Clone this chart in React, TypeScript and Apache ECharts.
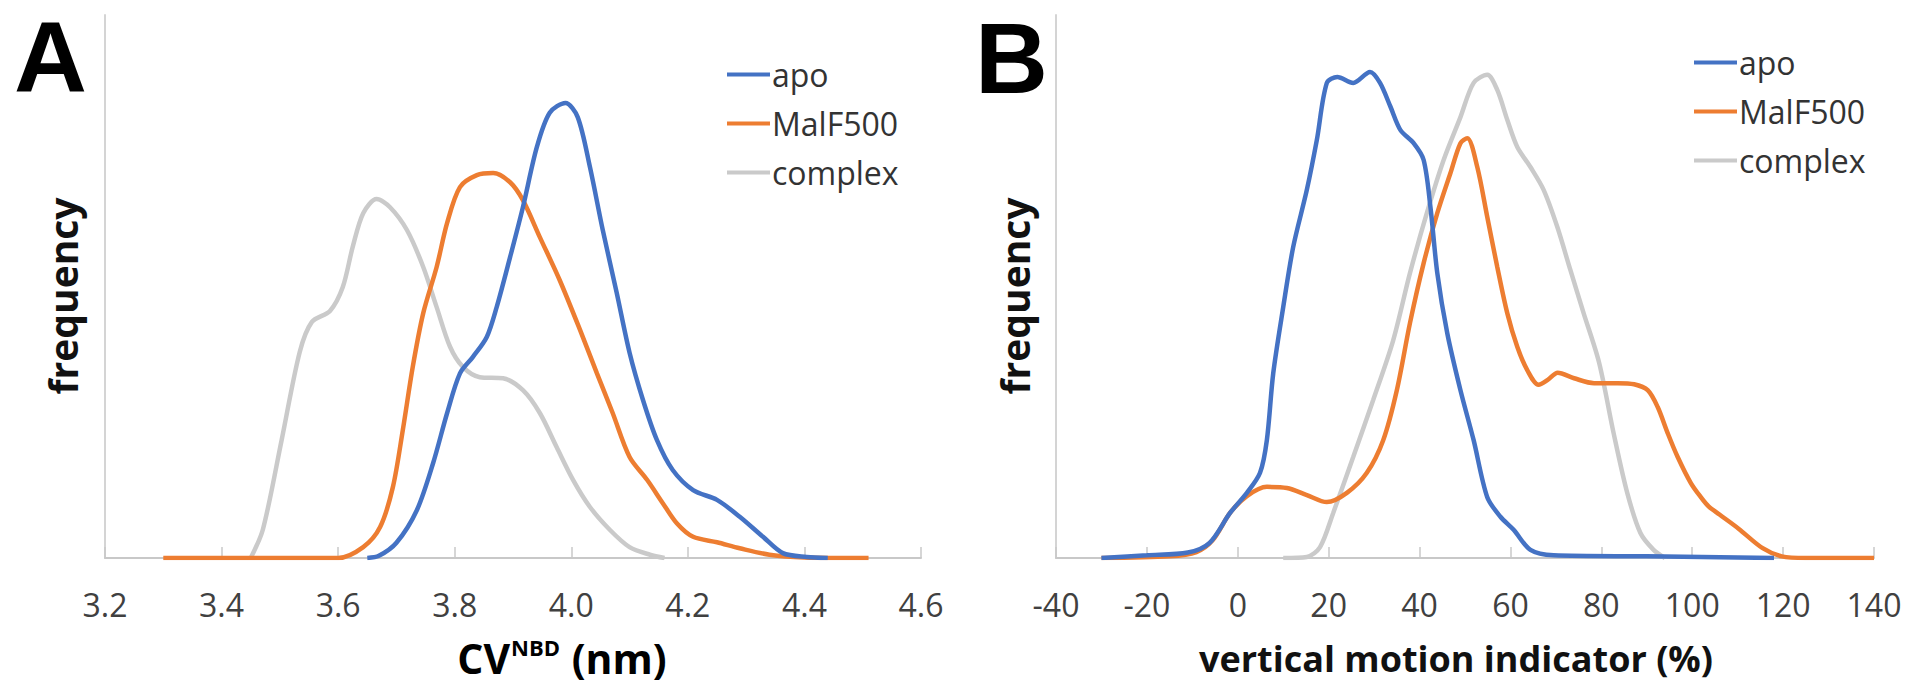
import React, { useEffect, useRef } from "react";
import * as echarts from "echarts";

const seriesNames = ["apo", "MalF500", "complex"];
const seriesColors = ["#4472C4", "#ED7D31", "#CACACA"];

// Panel A: CV^NBD (nm) vs frequency
const aApo: number[][] = [
  [3.65, 0], [3.67, 0.004], [3.70, 0.028], [3.735, 0.088], [3.763, 0.175], [3.787, 0.267],
  [3.809, 0.34], [3.831, 0.37], [3.855, 0.407], [3.872, 0.462], [3.895, 0.554], [3.917, 0.646],
  [3.941, 0.757], [3.963, 0.82], [3.99, 0.838], [4.011, 0.812], [4.032, 0.72], [4.054, 0.604],
  [4.078, 0.488], [4.10, 0.378], [4.123, 0.291], [4.147, 0.217], [4.174, 0.162], [4.209, 0.125],
  [4.25, 0.107], [4.289, 0.076], [4.329, 0.039], [4.363, 0.009], [4.404, 0.002], [4.44, 0],
];
const aMalF: number[][] = [
  [3.30, 0], [3.45, 0], [3.60, 0], [3.643, 0.02], [3.672, 0.057], [3.694, 0.131], [3.711, 0.236],
  [3.728, 0.352], [3.746, 0.451], [3.769, 0.536], [3.787, 0.617], [3.809, 0.683], [3.838, 0.705],
  [3.866, 0.709], [3.895, 0.692], [3.917, 0.659], [3.946, 0.591], [3.98, 0.512], [4.015, 0.42],
  [4.044, 0.34], [4.071, 0.267], [4.10, 0.186], [4.13, 0.144], [4.157, 0.101], [4.181, 0.064],
  [4.209, 0.039], [4.25, 0.029], [4.289, 0.018], [4.34, 0.006], [4.40, 0.001], [4.51, 0],
];
const aComplex: number[][] = [
  [3.45, 0], [3.471, 0.053], [3.503, 0.217], [3.534, 0.379], [3.555, 0.435], [3.586, 0.455],
  [3.608, 0.499], [3.625, 0.573], [3.643, 0.635], [3.666, 0.661], [3.689, 0.646], [3.718, 0.604],
  [3.746, 0.536], [3.769, 0.462], [3.792, 0.389], [3.814, 0.352], [3.843, 0.333], [3.883, 0.331],
  [3.917, 0.309], [3.946, 0.267], [3.975, 0.204], [4.003, 0.144], [4.032, 0.094], [4.066, 0.052],
  [4.10, 0.02], [4.135, 0.006], [4.16, 0],
];

// Panel B: vertical motion indicator (%) vs frequency
const bApo: number[][] = [
  [-30, 0], [-20, 0.005], [-11, 0.01], [-6.2, 0.028], [-1.7, 0.083], [2.0, 0.12], [4.9, 0.157],
  [6.4, 0.217], [7.8, 0.34], [10.0, 0.462], [12.2, 0.573], [15.2, 0.678], [17.4, 0.77],
  [19.6, 0.875], [21.9, 0.886], [25.4, 0.875], [29.1, 0.895], [31.3, 0.875], [33.6, 0.831],
  [35.8, 0.788], [38.7, 0.764], [40.9, 0.733], [42.4, 0.646], [43.9, 0.525], [46.1, 0.414],
  [49.0, 0.309], [51.9, 0.217], [54.9, 0.112], [57.8, 0.076], [60.7, 0.052], [64.4, 0.015],
  [69.5, 0.005], [90, 0.003], [118, 0],
];
const bMalF: number[][] = [
  [-30, 0], [-15, 0.003], [-9.1, 0.011], [-5.5, 0.033], [-1.7, 0.083], [2.0, 0.114], [6.4, 0.131],
  [10.8, 0.129], [15.2, 0.116], [19.6, 0.103], [24.0, 0.12], [28.4, 0.157], [32.0, 0.217],
  [35.0, 0.309], [37.9, 0.433], [40.9, 0.543], [43.9, 0.635], [46.8, 0.709], [49.0, 0.764],
  [50.5, 0.773], [52.7, 0.72], [54.9, 0.628], [57.1, 0.536], [59.3, 0.451], [61.5, 0.389],
  [63.7, 0.346], [66.2, 0.319], [68.2, 0.328], [70.4, 0.341], [74.0, 0.331], [78.4, 0.322],
  [83.6, 0.322], [87.2, 0.32], [90.2, 0.309], [92.4, 0.278], [94.6, 0.23], [96.8, 0.186],
  [99.7, 0.138], [101.9, 0.112], [103.6, 0.095], [106, 0.08], [110.2, 0.054], [115.5, 0.018],
  [119.7, 0.003], [125, 0], [140, 0],
];
const bComplex: number[][] = [
  [10, 0], [15.2, 0.002], [18.1, 0.02], [21.0, 0.083], [25.4, 0.186], [29.8, 0.291], [34.2, 0.401],
  [37.9, 0.525], [41.6, 0.635], [45.3, 0.733], [49.0, 0.812], [51.9, 0.875], [54.9, 0.89],
  [57.1, 0.862], [59.3, 0.807], [61.5, 0.757], [64.4, 0.72], [67.3, 0.678], [70.3, 0.61],
  [73.2, 0.53], [76.1, 0.451], [79.5, 0.36], [82.7, 0.23], [85.7, 0.12], [88.6, 0.046],
  [91.5, 0.015], [94, 0],
];

const panelLetters = ["A", "B"];
const xTitleB = "vertical motion indicator (%)";
const yTitle = "frequency";

const FONT = "'Open Sans', 'Noto Sans', sans-serif";
const LETTER_FONT = "'Liberation Sans', Arial, sans-serif";

export default function App() {
  const ref = useRef<HTMLDivElement>(null);
  useEffect(() => {
    document.body.style.margin = "0";
    if (!ref.current) return;
    const chart = echarts.init(ref.current, undefined, { renderer: "svg" });

    const axisLineStyle = { color: "#C8C8C8", width: 2 };
    const mkX = (gridIndex: number, min: number, max: number, interval: number, fmt: (v: number) => string) => ({
      type: "value",
      gridIndex,
      min,
      max,
      interval,
      axisLine: { show: true, onZero: false, lineStyle: axisLineStyle },
      axisTick: { show: true, inside: true, length: 11, lineStyle: { color: "#C8C8C8", width: 1.5 } },
      splitLine: { show: false },
      axisLabel: { margin: 30, fontSize: 32, color: "#404040", fontFamily: FONT, formatter: fmt },
    });
    const mkY = (gridIndex: number) => ({
      type: "value",
      gridIndex,
      min: 0,
      max: 1,
      axisLine: { show: true, onZero: false, lineStyle: { color: "#D4D4D4", width: 2 } },
      axisTick: { show: false },
      axisLabel: { show: false },
      splitLine: { show: false },
    });

    const dataSets = [
      [aApo, aMalF, aComplex],
      [bApo, bMalF, bComplex],
    ];
    const series: any[] = [];
    dataSets.forEach((sets, gi) => {
      // draw complex first, then MalF500, then apo on top
      [2, 1, 0].forEach((si) => {
        series.push({
          type: "line",
          name: seriesNames[si],
          xAxisIndex: gi,
          yAxisIndex: gi,
          data: sets[si],
          showSymbol: false,
          smooth: 0.3,
          color: seriesColors[si],
          itemStyle: { color: seriesColors[si] },
          lineStyle: { color: seriesColors[si], width: 4.5 },
          z: 2 + (2 - si),
        });
      });
    });

    const mkLegend = (left: number, top: number) => ({
      orient: "vertical",
      left,
      top,
      data: seriesNames,
      icon: "rect",
      itemWidth: 43,
      itemHeight: 4,
      itemGap: 0,
      selectedMode: false,
      textStyle: { fontSize: 32, color: "#333333", fontFamily: FONT, lineHeight: 49, padding: [0, 0, 0, -3] },
    });

    const titleStyle = { fontSize: 39, fontWeight: "bold", fontFamily: FONT, fill: "#111111" };
    const letterStyle = { fontSize: 101, fontWeight: "bold", fontFamily: LETTER_FONT, fill: "#000", align: "left", verticalAlign: "middle" };

    chart.setOption({
      animation: false,
      backgroundColor: "#ffffff",
      grid: [
        { left: 105, top: 15, width: 816, height: 543 },
        { left: 1056, top: 15, width: 818, height: 543 },
      ],
      xAxis: [
        mkX(0, 3.2, 4.6, 0.2, (v: number) => v.toFixed(1)),
        mkX(1, -40, 140, 20, (v: number) => String(Math.round(v))),
      ],
      yAxis: [mkY(0), mkY(1)],
      legend: [mkLegend(722, 45), mkLegend(1689, 33)],
      series,
      graphic: [
        { type: "text", x: 14, y: 57, style: { text: panelLetters[0], ...letterStyle } },
        { type: "text", x: 975, y: 58, style: { text: panelLetters[1], ...letterStyle } },
        {
          type: "text", x: 62, y: 296, rotation: Math.PI / 2,
          style: { text: yTitle, ...titleStyle, align: "center", verticalAlign: "middle" },
        },
        {
          type: "text", x: 1014, y: 296, rotation: Math.PI / 2,
          style: { text: yTitle, ...titleStyle, align: "center", verticalAlign: "middle" },
        },
        {
          type: "text", x: 562, y: 658,
          style: {
            text: "{a|CV}{s|NBD}{a| (nm)}",
            align: "center",
            verticalAlign: "middle",
            rich: {
              a: { fontSize: 41, fontWeight: "bold", fontFamily: FONT, color: "#111111", lineHeight: 46 },
              s: { fontSize: 22, fontWeight: "bold", fontFamily: FONT, color: "#111111", lineHeight: 46, verticalAlign: "top", padding: [1, 1, 0, 1] },
            },
          },
        },
        {
          type: "text", x: 1456, y: 658,
          style: { text: xTitleB, ...titleStyle, fontSize: 36, align: "center", verticalAlign: "middle" },
        },
      ],
    });
    return () => chart.dispose();
  }, []);
  return <div ref={ref} style={{ width: 1913, height: 691 }} />;
}
